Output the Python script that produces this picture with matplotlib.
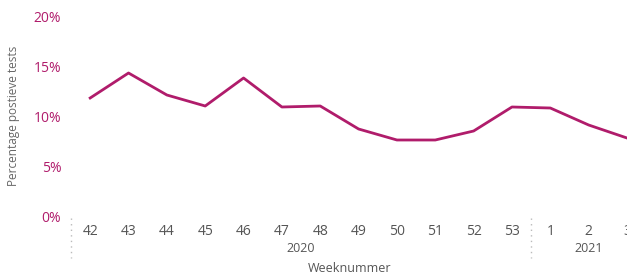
import matplotlib.pyplot as plt
import matplotlib.transforms as mtransforms
import numpy as np

plt.rcParams['font.family'] = ['Open Sans', 'DejaVu Sans']

weeks = ['42', '43', '44', '45', '46', '47', '48', '49', '50', '51', '52', '53', '1', '2', '3']
percent = [11.8, 14.3, 12.1, 11.0, 13.8, 10.9, 11.0, 8.7, 7.6, 7.6, 8.5, 10.9, 10.8, 9.1, 7.8]
years = ['2020', '2021']
year_pos = [5.5, 13.0]
separators = [-0.5, 11.5]
yticks = [0, 5, 10, 15, 20]

line_color = '#b01c6b'
grey = '#555555'

fig = plt.figure(figsize=(6.27, 2.77), dpi=100)
ax = fig.add_axes([71 / 627, 1 - 216 / 277, 1 - 71 / 627, 200 / 277])

x = np.arange(len(weeks))
ax.plot(x, percent, color=line_color, linewidth=2.0, solid_joinstyle='round')

ax.set_xlim(-0.5, 13.95)
ax.set_ylim(0, 20)
ax.set_xticks(x)
ax.set_xticklabels(weeks)
ax.set_yticks(yticks)
ax.set_yticklabels([f'{v}%' for v in yticks])

for s in ax.spines.values():
    s.set_visible(False)
ax.tick_params(axis='both', length=0)
ax.tick_params(axis='x', colors=grey, labelsize=10, pad=6)
ax.tick_params(axis='y', colors=line_color, labelsize=10, pad=7)

trans = mtransforms.blended_transform_factory(ax.transData, ax.transAxes)
for sx in separators:
    ax.plot([sx, sx], [-0.01, -0.21], transform=trans, color='#bbbbbb',
            linestyle=(0, (1, 3)), linewidth=1, clip_on=False)
for label, xp in zip(years, year_pos):
    ax.text(xp, -0.165, label, transform=trans, ha='center', va='center',
            color=grey, fontsize=9)

ax.set_ylabel('Percentage postieve tests', color='#666666', fontsize=8.5, labelpad=10)
fig.text(350 / 627, 1 - 268 / 277, 'Weeknummer', ha='center', va='center',
         color=grey, fontsize=9)

fig.savefig('out.png', dpi=100)
